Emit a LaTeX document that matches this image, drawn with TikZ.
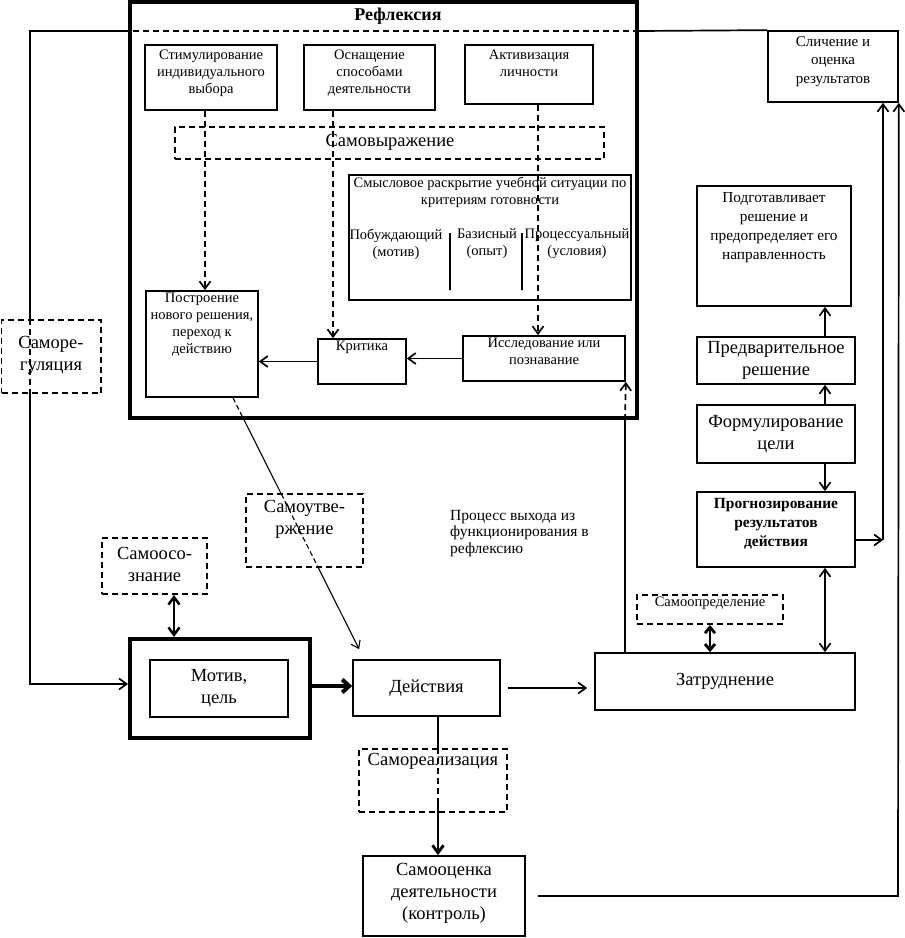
\documentclass[tikz,border=0pt]{standalone}
\usepackage{fontspec}
\setmainfont{Liberation Serif}
\usetikzlibrary{arrows.meta,fit,calc}
\begin{document}
\begin{tikzpicture}[x=1pt,y=-1pt,
  >={Straight Barb[length=7.5pt,width=11pt]},
  box/.style={draw, line width=1.7pt, inner sep=0pt},
  dbox/.style={draw, line width=1.9pt, dash pattern=on 6pt off 4pt, inner sep=0pt},
  ln/.style={line width=1.7pt},
  dln/.style={line width=1.7pt, dash pattern=on 6pt off 4pt},
  arr/.style={line width=1.7pt, ->},
  darr/.style={line width=1.7pt, dash pattern=on 6pt off 4pt, ->},
  sm/.style={font=\fontsize{14.5}{17}\selectfont, align=center},
  big/.style={font=\fontsize{18.5}{22}\selectfont, align=center},
  tt/.style={anchor=north, inner sep=3pt},
]
\useasboundingbox (0,0) rectangle (905,938);

% ---------- Reflection block ----------
\node[box, line width=4pt, fit={(130,2)(637,418)}] (refl) {};
\node[font=\bfseries\fontsize{18}{20}\selectfont, inner sep=0pt] (reflt) at (398,16) {Рефлексия};

\node[box, fit={(145,45)(277,110)}] (stim) {};
\node[sm, tt, inner sep=6pt] (stimt) at (stim.north) {Стимулирование\\индивидуального\\выбора};
\node[box, fit={(304,45)(435,110)}] (osn) {};
\node[sm, tt, inner sep=6pt] (osnt) at (osn.north) {Оснащение\\способами\\деятельности};
\node[box, fit={(465,45)(593,104)}] (act) {};
\node[sm, tt, inner sep=6pt] (actt) at (act.north) {Активизация\\личности};

\node[dbox, fit={(175,127)(604,159)}] (samovyr) {};
\node[big, inner sep=0pt] (samovyrt) at (390,142) {Самовыражение};

\node[box, fit={(349,175)(631,300)}] (smysl) {};
\node[sm, tt, inner sep=3pt] (smyslt) at (smysl.north) {Смысловое раскрытие учебной ситуации по\\критериям готовности};
\node[sm, inner sep=0pt] (col1) at (396,244) {Побуждающий\\(мотив)};
\node[sm, inner sep=0pt] (col2) at (487,244) {Базисный\\(опыт)};
\node[sm, inner sep=0pt] (col3) at (577,244) {Процессуальный\\(условия)};
\draw[ln] (450,233) -- (450,290);
\draw[ln] (522,233) -- (522,290);

\node[box, fit={(146,291)(258,397)}] (postr) {};
\node[sm, tt, inner sep=3pt] (postrt) at (postr.north) {Построение\\нового решения,\\переход к\\действию};
\node[box, fit={(318,339)(406,384)}] (krit) {};
\node[sm, tt, inner sep=3pt] (kritt) at (krit.north) {Критика};
\node[box, fit={(463,336)(625,381)}] (issl) {};
\node[sm, tt, inner sep=3pt] (isslt) at (issl.north) {Исследование или\\познавание};

% dashed arrows from the top boxes
\coordinate (x205) at (205,0);
\coordinate (x333) at (333,0);
\coordinate (x538) at (538,0);
\draw[darr] (stim.south -| x205) -- (postr.north -| x205);
\draw[darr] (osn.south -| x333) -- (krit.north -| x333);
\draw[darr] (act.south -| x538) -- (issl.north -| x538);

\draw[arr] (issl.west) -- (issl.west -| krit.east);
\draw[arr] (krit.west) -- (krit.west -| postr.east);

% ---------- left side ----------
\node[dbox, fit={(1.5,320)(101,393)}] (samoreg) {};
\node[big, inner sep=0pt] (samoregt) at (51,355) {Саморе-\\гуляция};

\node[dbox, fit={(102,538)(207,594)}] (samoos) {};
\node[big, inner sep=0pt] (samoost) at (154.5,564) {Самоосо-\\знание};

\node[box, line width=4pt, fit={(130,639)(310,738)}] (motivout) {};
\node[box, fit={(150,660)(288,717)}] (motiv) {};
\node[big, inner sep=0pt] (motivt) at (motiv.center) {Мотив,\\цель};

\node[dbox, fit={(246,494)(363,567)}] (samoutv) {};
\node[big, tt, inner sep=7pt] (samoutvt) at (samoutv.north) {Самоутве-\\ржение};

\node[font=\fontsize{15.5}{16.5}\selectfont, align=left, anchor=north west, inner sep=0pt] (proc) at (450,510) {Процесс выхода из\\функционирования в\\рефлексию};

% ---------- middle / bottom ----------
\node[box, fit={(353,660)(500,716)}] (dejst) {};
\node[big, inner sep=0pt] (dejstt) at (dejst.center) {Действия};

\node[box, fit={(595,653)(855,710)}] (zatr) {};
\node[big, inner sep=0pt] (zatrt) at (zatr.center) {Затруднение};

\node[dbox, fit={(637,595)(783,624)}] (samoopr) {};
\node[font=\fontsize{14.5}{16}\selectfont, tt, inner sep=3pt] (samooprt) at (samoopr.north) {Самоопределение};

\node[dbox, fit={(359,749)(507,812)}] (samoreal) {};
\node[big, tt, inner sep=5pt] (samorealt) at (samoreal.north) {Самореализация};

\node[box, fit={(363,856)(525,936)}] (samoots) {};
\node[big, inner sep=0pt] (samootst) at (444,893) {Самооценка\\деятельности\\(контроль)};

% ---------- right column ----------
\node[box, fit={(768,31)(898,102)}] (slich) {};
\node[tt, align=center, inner sep=6pt, font=\fontsize{15}{18.5}\selectfont] (slicht) at (slich.north) {Сличение и\\оценка\\результатов};

\node[box, fit={(697,186)(851,306)}] (podg) {};
\node[tt, align=center, inner sep=7pt, font=\fontsize{15.3}{19}\selectfont] (podgt) at (podg.north) {Подготавливает\\решение и\\предопределяет его\\направленность};

\node[box, fit={(697,337)(855,384)}] (predv) {};
\node[big, inner sep=0pt] (predvt) at (predv.center) {Предварительное\\решение};

\node[box, line width=2.3pt, fit={(697,405)(855,463)}] (form) {};
\node[big, inner sep=0pt] (formt) at (form.center) {Формулирование\\цели};

\node[box, fit={(697,492)(855,567)}] (progn) {};
\node[tt, align=center, font=\bfseries\fontsize{15.5}{19}\selectfont, inner sep=7pt] (prognt) at (progn.north) {Прогнозирование\\результатов\\действия};

\coordinate (x825) at (825,0);
\draw[arr] (predv.north -| x825) -- (podg.south -| x825);
\draw[arr] (form.north -| x825) -- (predv.south -| x825);
\draw[arr] (form.south -| x825) -- (progn.north -| x825);
\draw[line width=1.7pt, <->] (progn.south -| x825) -- (zatr.north -| x825);

\coordinate (cR1) at (883,540);
\draw[arr] (progn.east |- cR1) -- (cR1);
\draw[arr] (cR1) -- (cR1 |- slich.south);
\coordinate (sEo) at ([xshift=12pt]samoots.east);
\coordinate (cR2) at (898,896);
\draw[arr] (sEo) -- (cR2) -- (slich.south east);

% ---------- top loop and self-regulation ----------
\coordinate (cTL) at (30,31);
\coordinate (cBL) at (30,684);
\draw[ln] (slich.north west) -- (refl.east |- cTL);
\draw[dln] (refl.east |- cTL) -- (refl.west |- cTL);
\draw[ln] (refl.west |- cTL) -- (cTL) -- (cTL |- samoreg.north);
\draw[dln] (cTL |- samoreg.north) -- (cTL |- samoreg.south);
\draw[arr] (cTL |- samoreg.south) -- (cBL) -- (motivout.west |- cBL);

% self-awareness double arrow
\coordinate (x174) at (174,0);
\draw[line width=2.5pt, <->] (samoos.south -| x174) -- (motivout.north -| x174);

% motive -> actions (thick)
\coordinate (cM) at (0,686);
\draw[line width=4pt, -{Straight Barb[length=7pt,width=13pt]}] (motivout.east |- cM) -- (dejst.west |- cM);

% actions -> difficulty
\draw[arr, shorten <=7pt, shorten >=7pt] (dejst.east) -- (dejst.east -| zatr.west);

% self-determination double arrow
\draw[line width=2.8pt, {Straight Barb[length=6pt,width=10pt]}-{Straight Barb[length=6pt,width=10pt]}] (samoopr.south) -- (samoopr.south |- zatr.north);

% difficulty -> research
\coordinate (x625) at (625,0);
\draw[ln] (zatr.north -| x625) -- (refl.south -| x625);
\draw[darr] (refl.south -| x625) -- (issl.south east);

% construction -> actions (diagonal)
\coordinate (dS) at ([xshift=31pt]postr.south);
\coordinate (dE) at ([xshift=7pt,yshift=10pt]dejst.north west);
\draw[line width=1.1pt, dash pattern=on 5pt off 3pt] (dS) -- ($(dS)!0.083!(dE)$);
\draw[line width=1.1pt] ($(dS)!0.083!(dE)$) -- ($(dS)!0.383!(dE)$);
\draw[line width=1.1pt, dash pattern=on 5pt off 3pt] ($(dS)!0.383!(dE)$) -- ($(dS)!0.672!(dE)$);
\draw[line width=1.1pt, -{Straight Barb[length=7pt,width=10pt]}] ($(dS)!0.672!(dE)$) -- (dE);

% actions -> self-assessment
\coordinate (x438) at (438,0);
\coordinate (cSR) at (438,800);
\draw[line width=2pt] (dejst.south -| x438) -- (samoreal.north -| x438);
\draw[dln] (samoreal.north -| x438) -- (cSR);
\draw[line width=2.8pt, ->] (cSR) -- (samoots.north -| x438);

\end{tikzpicture}
\end{document}
